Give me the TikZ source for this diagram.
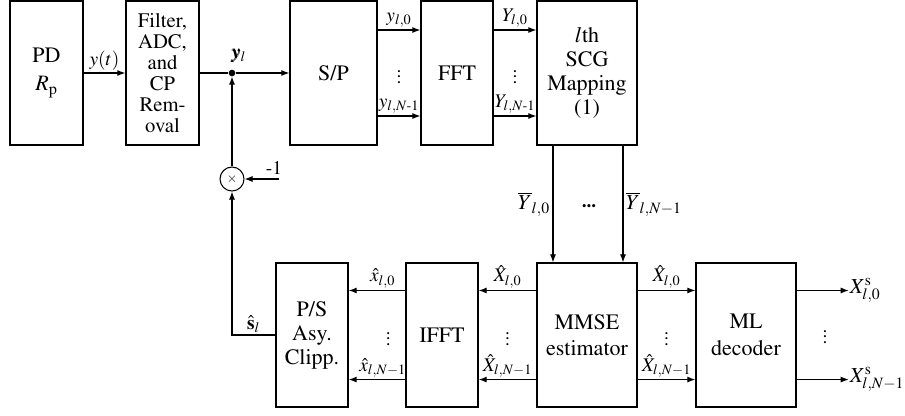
\documentclass[tikz,border=0pt]{standalone}
\usepackage{amsmath, amssymb}
\usepackage[T1]{fontenc}
\usepackage{mathptmx}
\usetikzlibrary{arrows.meta}

\begin{document}
\begin{tikzpicture}[x=0.75pt, y=-0.75pt, >={Latex[length=6pt,width=4.5pt]},
  blk/.style={draw, line width=1pt, align=center, inner sep=0pt, minimum height=108pt,
    font=\fontsize{16.5}{18}\selectfont},
  lbl/.style={font=\fontsize{14.5}{15}\selectfont, inner sep=1.5pt},
  biglbl/.style={font=\fontsize{16}{16}\selectfont, inner sep=2pt},
  dts/.style={font=\fontsize{14.5}{15}\selectfont, inner sep=0pt},
  sig/.style={->, line width=0.8pt}]
\useasboundingbox (0,0) rectangle (905,415);
% --- Row 1: receiver front end ---
\node[blk, minimum width=54.75pt] (pd) at (46.5,73) {PD\\[3pt]$R_\mathrm{p}$};
\node[blk, minimum width=54.75pt, font=\fontsize{15.5}{15.8}\selectfont] (filt) at (162.5,73) {Filter,\\ADC,\\and\\CP\\Rem-\\oval};
\node[blk, minimum width=65.25pt] (sp) at (333.5,73) {S/P};
\node[blk, minimum width=54pt] (fft) at (457,73) {FFT};
\node[blk, minimum width=75pt] (scg) at (587,73) {$l$th\\SCG\\Mapping\\(1)};
% junction and multiplier
\node[circle, fill, inner sep=0pt, minimum size=5pt] (jn) at (232,73) {};
\node[lbl] (yl) at (239,56) {$\pmb{y}_l$};
\node[circle, draw, line width=0.8pt, inner sep=0pt, minimum size=18pt] (mult) at (232,179) {$\times$};
\coordinate (m1) at (279,179);
\node[lbl] (neg) at (274,168) {-1};

\draw[sig] (pd) -- node[lbl, above] {$y(t)$} (filt);
\draw[line width=0.8pt] (filt) -- (jn);
\draw[sig] (jn) -- (sp);
\draw[sig] (mult) -- (jn);
\draw[sig] (m1) -- (mult);

\draw[sig] ([yshift=32.25pt]sp.east) -- node[lbl, above] {$y_{l,0}$} ([yshift=32.25pt]fft.west);
\draw[sig] ([yshift=-32.25pt]sp.east) -- node[lbl, above] {$y_{l,N\text{-}1}$} ([yshift=-32.25pt]fft.west);
\path (sp) -- node[dts] (d1) {$\vdots$} (fft);
\draw[sig] ([yshift=32.25pt]fft.east) -- node[lbl, above] {$Y_{l,0}$} ([yshift=32.25pt]scg.west);
\draw[sig] ([yshift=-32.25pt]fft.east) -- node[lbl, above] {$Y_{l,N\text{-}1}$} ([yshift=-32.25pt]scg.west);
\path (fft) -- node[dts] (d2) {$\vdots$} (scg);

% --- Row 2: estimation and decoding ---
\node[blk, minimum width=54pt] (ps) at (312,335) {P/S\\Asy.\\Clipp.};
\node[blk, minimum width=54pt] (ifft) at (442,335) {IFFT};
\node[blk, minimum width=75pt] (mmse) at (587,335) {MMSE\\[2pt]estimator};
\node[blk, minimum width=75pt] (ml) at (746,335) {ML\\[2pt]decoder};

\draw[sig] ([xshift=-25.5pt]scg.south) -- node[biglbl, left] {$\overline{Y}_{l,0}$} ([xshift=-25.5pt]mmse.north);
\draw[sig] ([xshift=27pt]scg.south) -- node[biglbl, right] {$\overline{Y}_{l,N-1}$} ([xshift=27pt]mmse.north);
\node[dts] (d3) at (589,206) {\textbf{...}};

\draw[sig] ([yshift=33.4pt]mmse.west) -- node[lbl, above] {$\hat{X}_{l,0}$} ([yshift=33.4pt]ifft.east);
\draw[sig] ([yshift=-33.4pt]mmse.west) -- node[lbl, above] {$\hat{X}_{l,N-1}$} ([yshift=-33.4pt]ifft.east);
\path (mmse) -- node[dts] (d4) {$\vdots$} (ifft);
\draw[sig] ([yshift=33.4pt]ifft.west) -- node[lbl, above, pos=0.4] {$\hat{x}_{l,0}$} ([yshift=33.4pt]ps.east);
\draw[sig] ([yshift=-33.4pt]ifft.west) -- node[lbl, above, pos=0.4] {$\hat{x}_{l,N-1}$} ([yshift=-33.4pt]ps.east);
\path (ifft) -- node[dts, pos=0.3] (d5) {$\vdots$} (ps);

\draw[sig] ([yshift=33.4pt]mmse.east) -- node[lbl, above] {$\hat{X}_{l,0}$} ([yshift=33.4pt]ml.west);
\draw[sig] ([yshift=-33.4pt]mmse.east) -- node[lbl, above] {$\hat{X}_{l,N-1}$} ([yshift=-33.4pt]ml.west);
\path (mmse) -- node[dts] (d6) {$\vdots$} (ml);
\draw[sig] ([yshift=33.4pt]ml.east) -- ++(52,0) node[biglbl, right, inner sep=0.5pt] {$X^{\mathrm{s}}_{l,0}$};
\draw[sig] ([yshift=-33.4pt]ml.east) -- ++(52,0) node[biglbl, right, inner sep=0.5pt] {$X^{\mathrm{s}}_{l,N-1}$};
\node[dts] (d7) at (825,333) {$\vdots$};

% feedback of the clipped estimate
\draw[sig] (ps.west) -- node[lbl, above] {$\hat{\mathbf{s}}_l$} (ps.west -| mult.center) -- (mult);
\end{tikzpicture}
\end{document}
